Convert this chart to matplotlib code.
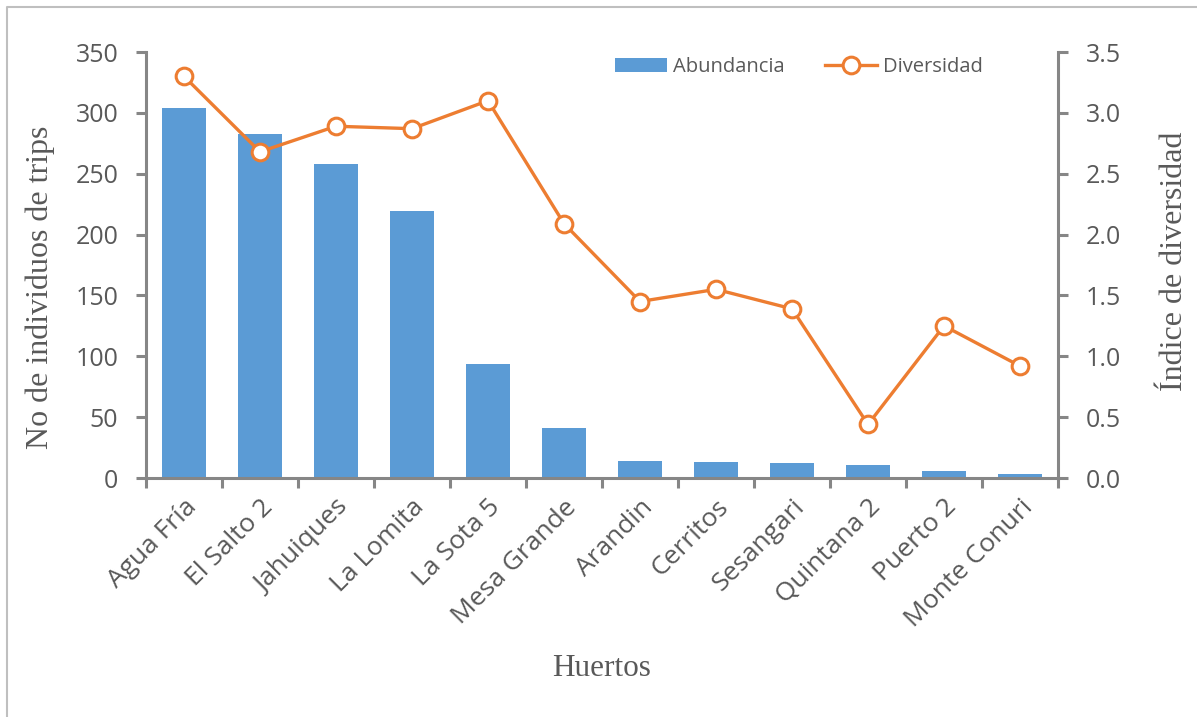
import matplotlib
matplotlib.use("Agg")
import matplotlib.pyplot as plt
import numpy as np
from matplotlib.lines import Line2D

categories = ["Agua Fría", "El Salto 2", "Jahuiques", "La Lomita", "La Sota 5",
              "Mesa Grande", "Arandin", "Cerritos", "Sesangari", "Quintana 2",
              "Puerto 2", "Monte Conuri"]
abundancia = [304, 283, 258, 219, 94, 41, 14, 13, 12, 11, 6, 3]
diversidad = [3.30, 2.68, 2.89, 2.87, 3.10, 2.09, 1.45, 1.55, 1.39, 0.44, 1.25, 0.92]
left_ticks = [0, 50, 100, 150, 200, 250, 300, 350]
right_ticks = [0.0, 0.5, 1.0, 1.5, 2.0, 2.5, 3.0, 3.5]

BAR = "#5B9BD5"
ORANGE = "#ED7D31"
AXC = "#868686"
TXT = "#595959"
SANS = ["Open Sans", "DejaVu Sans"]
SERIF = ["Liberation Serif", "DejaVu Serif"]

W, H = 1197, 717
fig = plt.figure(figsize=(W / 100, H / 100), dpi=100)
ax = fig.add_axes([146 / W, (H - 478) / H, (1058 - 146) / W, (478 - 52) / H])
ax2 = ax.twinx()

x = np.arange(len(categories))
ax.bar(x, abundancia, width=0.57, color=BAR, label="Abundancia", zorder=2)
ax2.plot(x, diversidad, color=ORANGE, lw=2.4, marker="o", ms=12,
         mfc="white", mec=ORANGE, mew=2.2, label="Diversidad", zorder=3)

ax.set_xlim(-0.5, len(categories) - 0.5)
ax.set_ylim(0, 350)
ax2.set_ylim(0, 3.5)
ax.set_yticks(left_ticks)
ax2.set_yticks(right_ticks)
ax2.set_yticklabels([f"{v:.1f}" for v in right_ticks])

ax.set_xticks(x)
ax.set_xticklabels(categories, rotation=45, ha="right", va="top",
                   rotation_mode="anchor", family=SANS, fontsize=19, color=TXT)
ax.set_xticks(np.arange(-0.5, len(categories)), minor=True)
ax.tick_params(axis="x", which="major", length=0, pad=12)
ax.tick_params(axis="x", which="minor", length=7, width=2.2, color=AXC, direction="out")
ax.tick_params(axis="y", length=7, width=2.2, color=AXC, direction="out", pad=13,
               labelsize=18, labelcolor=TXT)
ax2.tick_params(axis="y", length=7, width=2.2, color=AXC, direction="out", pad=13,
                labelsize=18, labelcolor=TXT)
for lab in ax.get_yticklabels() + ax2.get_yticklabels():
    lab.set_family(SANS)

for a in (ax, ax2):
    a.spines["top"].set_visible(False)
for s in ("left", "bottom"):
    ax.spines[s].set_color(AXC)
    ax.spines[s].set_linewidth(2.2)
ax.spines["right"].set_visible(False)
ax2.spines["left"].set_visible(False)
ax2.spines["bottom"].set_visible(False)
ax2.spines["right"].set_color(AXC)
ax2.spines["right"].set_linewidth(2.2)

ax.set_ylabel("No de individuos de trips", family=SERIF, fontsize=23, color=TXT)
ax2.set_ylabel("Índice de diversidad", family=SERIF, fontsize=23, color=TXT)
ax.yaxis.set_label_coords(-0.100, 0.447)
ax2.yaxis.set_label_coords(1.112, 0.509)
fig.text(602 / W, 1 - 668 / H, "Huertos", family=SERIF, fontsize=22.5, color=TXT,
         ha="center", va="center")

h1, l1 = ax.get_legend_handles_labels()
h2, l2 = ax2.get_legend_handles_labels()
leg = ax.legend(h1 + h2, l1 + l2, ncol=2, frameon=False, loc="center",
                bbox_to_anchor=(0.716, 0.964), prop={"family": SANS, "size": 14.5},
                handlelength=2.6, columnspacing=2.0, handletextpad=0.3)
for t in leg.get_texts():
    t.set_color(TXT)
leg.set_zorder(5)

# outer chart border (left and top edges visible)
fig.add_artist(Line2D([7 / W, 7 / W, 1.0], [0.0, 1 - 7 / H, 1 - 7 / H],
                      transform=fig.transFigure, color="#BFBFBF", lw=1.5))

fig.savefig("out.png", dpi=100, facecolor="white")
